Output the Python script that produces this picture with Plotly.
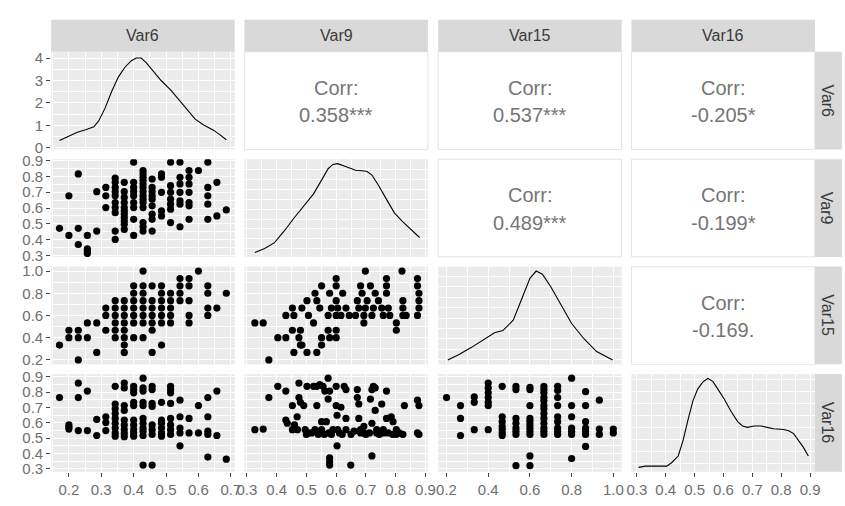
import plotly.graph_objects as go

W, H = 845, 506

# ---------------- data ----------------
variables = ["Var6", "Var9", "Var15", "Var16"]

var6_ticks = [0.2, 0.3, 0.4, 0.5, 0.6, 0.7]
var9_ticks = [0.3, 0.4, 0.5, 0.6, 0.7, 0.8, 0.9]
var15_ticks = [0.2, 0.4, 0.6, 0.8, 1.0]
var16_ticks = [0.3, 0.4, 0.5, 0.6, 0.7, 0.8, 0.9]
density6_ticks = [0, 1, 2, 3, 4]

var6_limits = [0.171, 0.686]
var9_limits = [0.32, 0.88]
var15_limits = [0.2, 1.0]
var16_limits = [0.31, 0.888]
density6_range = [-0.07, 4.28]

corr_values = {(0, 1): "0.358***", (0, 2): "0.537***", (0, 3): "-0.205*",
               (1, 2): "0.489***", (1, 3): "-0.199*", (2, 3): "-0.169."}

# diagonal densities
dens6_x = [0.171, 0.201, 0.226, 0.252, 0.277, 0.292, 0.312, 0.332, 0.353, 0.373, 0.393, 0.408,
           0.423, 0.438, 0.459, 0.484, 0.514, 0.544, 0.565, 0.590, 0.615, 0.645, 0.666, 0.686]
dens6_y = [0.33, 0.55, 0.70, 0.81, 0.94, 1.20, 1.78, 2.51, 3.16, 3.59, 3.88, 4.0,
           4.0, 3.81, 3.45, 3.01, 2.58, 2.07, 1.71, 1.28, 1.03, 0.80, 0.59, 0.36]

dens9_x = [0.327, 0.360, 0.393, 0.425, 0.458, 0.491, 0.524, 0.551, 0.573, 0.589, 0.605, 0.627,
           0.649, 0.665, 0.687, 0.704, 0.720, 0.742, 0.769, 0.796, 0.824, 0.851, 0.880]
dens9_y = [0.15, 0.25, 0.40, 0.69, 1.02, 1.33, 1.64, 1.99, 2.28, 2.39, 2.41, 2.35,
           2.28, 2.24, 2.23, 2.21, 2.12, 1.86, 1.50, 1.15, 0.93, 0.73, 0.53]

dens15_x = [0.206, 0.26, 0.32, 0.38, 0.43, 0.47, 0.52, 0.56, 0.60, 0.63, 0.66, 0.70,
            0.75, 0.80, 0.86, 0.92, 0.997]
dens15_y = [0.25, 0.38, 0.55, 0.75, 0.90, 0.95, 1.20, 1.70, 2.20, 2.375, 2.30, 2.00,
            1.55, 1.12, 0.75, 0.45, 0.25]

dens16_x = [0.306, 0.329, 0.403, 0.420, 0.443, 0.460, 0.477, 0.494, 0.511, 0.529, 0.546, 0.563,
            0.580, 0.603, 0.626, 0.649, 0.666, 0.683, 0.706, 0.729, 0.751, 0.774, 0.809, 0.826,
            0.843, 0.860, 0.877, 0.894]
dens16_y = [0.34, 0.39, 0.39, 0.53, 0.81, 1.46, 2.31, 3.10, 3.60, 3.89, 4.03, 3.91,
            3.60, 3.17, 2.67, 2.24, 2.06, 2.00, 2.06, 2.06, 2.00, 1.94, 1.91, 1.86,
            1.74, 1.46, 1.17, 0.81]

# scatter panels: Var6 is discrete (x -> list of y)
var6_vs_var9 = {
    0.171: [0.472], 0.200: [0.677, 0.427], 0.229: [0.815, 0.472, 0.370],
    0.257: [0.427, 0.342, 0.328, 0.313], 0.286: [0.703, 0.455], 0.314: [0.730, 0.677, 0.603],
    0.343: [0.788, 0.762, 0.730, 0.703, 0.677, 0.635, 0.603, 0.571, 0.455, 0.402],
    0.371: [0.762, 0.703, 0.667, 0.635, 0.603, 0.582, 0.561, 0.540, 0.518, 0.497, 0.465],
    0.400: [0.889, 0.762, 0.730, 0.703, 0.677, 0.635, 0.603, 0.529, 0.427],
    0.429: [0.836, 0.815, 0.794, 0.773, 0.752, 0.730, 0.703, 0.677, 0.656, 0.635, 0.603,
            0.508, 0.482, 0.455],
    0.457: [0.783, 0.730, 0.703, 0.677, 0.656, 0.614, 0.561, 0.529, 0.455],
    0.486: [0.815, 0.794, 0.699, 0.582, 0.550],
    0.514: [0.889, 0.741, 0.699, 0.656, 0.624, 0.593, 0.508],
    0.543: [0.889, 0.794, 0.752, 0.699, 0.646, 0.624, 0.482],
    0.571: [0.836, 0.794, 0.752, 0.699, 0.635, 0.614, 0.529],
    0.600: [0.836], 0.629: [0.889, 0.730, 0.677, 0.624, 0.529],
    0.657: [0.762, 0.550], 0.686: [0.588],
}
var6_vs_var15 = {
    0.171: [0.333], 0.200: [0.467, 0.4], 0.229: [0.467, 0.4, 0.2], 0.257: [0.533, 0.4],
    0.286: [0.533, 0.267], 0.314: [0.667, 0.6, 0.467],
    0.343: [0.733, 0.667, 0.6, 0.533, 0.467, 0.4],
    0.371: [0.733, 0.667, 0.6, 0.533, 0.467, 0.4, 0.333, 0.267],
    0.400: [0.867, 0.8, 0.733, 0.667, 0.6, 0.533, 0.4],
    0.429: [1.0, 0.867, 0.8, 0.733, 0.667, 0.6, 0.533, 0.4],
    0.457: [0.867, 0.733, 0.667, 0.6, 0.533, 0.467, 0.267],
    0.486: [0.867, 0.8, 0.733, 0.667, 0.6, 0.533, 0.333],
    0.514: [0.8, 0.733, 0.667, 0.6, 0.533],
    0.543: [0.933, 0.867, 0.8, 0.733], 0.571: [0.933, 0.867, 0.733, 0.6, 0.533],
    0.600: [1.0], 0.629: [0.867, 0.8, 0.667, 0.6], 0.657: [0.667], 0.686: [0.8],
}
var6_vs_var16 = {
    0.171: [0.764], 0.200: [0.586, 0.572, 0.559], 0.229: [0.858, 0.764, 0.549],
    0.257: [0.806, 0.549], 0.286: [0.622, 0.517], 0.314: [0.639, 0.601, 0.549],
    0.343: [0.837, 0.722, 0.691, 0.660, 0.628, 0.597, 0.566, 0.534, 0.513],
    0.371: [0.858, 0.827, 0.712, 0.680, 0.618, 0.586, 0.555, 0.530, 0.509],
    0.400: [0.837, 0.816, 0.795, 0.733, 0.712, 0.618, 0.586, 0.555, 0.534, 0.513],
    0.429: [0.890, 0.827, 0.806, 0.733, 0.712, 0.628, 0.597, 0.566, 0.545, 0.517, 0.325],
    0.457: [0.837, 0.816, 0.726, 0.706, 0.586, 0.555, 0.524, 0.325],
    0.486: [0.733, 0.618, 0.597, 0.566, 0.534, 0.513],
    0.514: [0.837, 0.816, 0.795, 0.726, 0.628, 0.586, 0.555, 0.524],
    0.543: [0.747, 0.639, 0.566, 0.534, 0.450], 0.571: [0.628, 0.534],
    0.600: [0.712, 0.534], 0.629: [0.764, 0.639, 0.545, 0.524, 0.377],
    0.657: [0.806, 0.517], 0.686: [0.363],
}
var9_vs_var15 = [
    (0.327, 0.533), (0.355, 0.533), (0.374, 0.2), (0.404, 0.4), (0.431, 0.6), (0.431, 0.4),
    (0.453, 0.667), (0.453, 0.467), (0.458, 0.6), (0.458, 0.267), (0.475, 0.4), (0.480, 0.467),
    (0.480, 0.333), (0.485, 0.667), (0.485, 0.333), (0.502, 0.267), (0.502, 0.733), (0.507, 0.6),
    (0.524, 0.533), (0.529, 0.8), (0.535, 0.267), (0.535, 0.733), (0.545, 0.667), (0.551, 0.867),
    (0.551, 0.333), (0.551, 0.4), (0.573, 0.6), (0.573, 0.467), (0.578, 0.8), (0.578, 0.4),
    (0.584, 0.667), (0.600, 0.933), (0.600, 0.867), (0.600, 0.733), (0.600, 0.6), (0.600, 0.467),
    (0.600, 0.4), (0.605, 0.667), (0.622, 0.8), (0.616, 0.6), (0.633, 0.667), (0.644, 0.6),
    (0.665, 0.6), (0.671, 0.733), (0.676, 0.667), (0.682, 0.867), (0.687, 0.8), (0.693, 0.6),
    (0.693, 0.533), (0.698, 1.0), (0.698, 0.667), (0.704, 0.733), (0.715, 0.867), (0.720, 0.6),
    (0.725, 0.667), (0.731, 0.8), (0.742, 0.733), (0.753, 0.667), (0.758, 0.6), (0.769, 0.933),
    (0.769, 0.867), (0.769, 0.8), (0.775, 0.667), (0.780, 0.6), (0.802, 0.533), (0.802, 0.467),
    (0.821, 1.0), (0.824, 0.733), (0.824, 0.667), (0.824, 0.6), (0.835, 0.6), (0.873, 0.933),
    (0.873, 0.867), (0.878, 0.8), (0.878, 0.733), (0.878, 0.667), (0.873, 0.6),
]
var9_vs_var16 = [
    (0.327, 0.555), (0.355, 0.559), (0.374, 0.764), (0.404, 0.837), (0.431, 0.806), (0.431, 0.618),
    (0.436, 0.597), (0.453, 0.712), (0.453, 0.555), (0.469, 0.639), (0.475, 0.858), (0.475, 0.764),
    (0.480, 0.733), (0.491, 0.712), (0.496, 0.555), (0.502, 0.837), (0.507, 0.534), (0.518, 0.534),
    (0.524, 0.837), (0.529, 0.555), (0.535, 0.712), (0.535, 0.837), (0.545, 0.848), (0.551, 0.607),
    (0.551, 0.555), (0.551, 0.534), (0.556, 0.837), (0.562, 0.806), (0.567, 0.607), (0.573, 0.890),
    (0.573, 0.754), (0.578, 0.806), (0.584, 0.524), (0.589, 0.555), (0.600, 0.837), (0.600, 0.712),
    (0.603, 0.649), (0.605, 0.555), (0.611, 0.534), (0.616, 0.701), (0.627, 0.837), (0.633, 0.816),
    (0.633, 0.628), (0.633, 0.555), (0.603, 0.450), (0.578, 0.371), (0.578, 0.346), (0.578, 0.325),
    (0.649, 0.325), (0.671, 0.816), (0.671, 0.764), (0.676, 0.722), (0.676, 0.628), (0.682, 0.555),
    (0.682, 0.534), (0.693, 0.576), (0.693, 0.534), (0.715, 0.754), (0.720, 0.816), (0.720, 0.597),
    (0.720, 0.384), (0.725, 0.837), (0.731, 0.827), (0.731, 0.680), (0.736, 0.555), (0.736, 0.534),
    (0.753, 0.722), (0.758, 0.555), (0.769, 0.806), (0.769, 0.628), (0.775, 0.534), (0.785, 0.639),
    (0.791, 0.607), (0.802, 0.555), (0.802, 0.524), (0.824, 0.524), (0.829, 0.712), (0.873, 0.747),
    (0.878, 0.712), (0.873, 0.534), (0.878, 0.524), (0.560, 0.524), (0.575, 0.534), (0.620, 0.524),
    (0.650, 0.524), (0.660, 0.545), (0.700, 0.524), (0.712, 0.534), (0.745, 0.524), (0.760, 0.534),
    (0.790, 0.524), (0.812, 0.534), (0.540, 0.524), (0.500, 0.524), (0.470, 0.555), (0.460, 0.586),
]
var15_vs_var16 = {
    0.2: [0.764], 0.267: [0.712, 0.628, 0.517], 0.333: [0.768, 0.733, 0.555],
    0.4: [0.858, 0.827, 0.795, 0.764, 0.733, 0.712, 0.555],
    0.467: [0.837, 0.639, 0.607, 0.576, 0.555, 0.534, 0.517],
    0.533: [0.837, 0.816, 0.628, 0.597, 0.566, 0.545, 0.524, 0.321],
    0.6: [0.831, 0.816, 0.712, 0.628, 0.607, 0.586, 0.566, 0.545, 0.524, 0.384, 0.321],
    0.667: [0.837, 0.816, 0.795, 0.764, 0.743, 0.712, 0.691, 0.660, 0.628, 0.597, 0.566,
            0.545, 0.524],
    0.733: [0.837, 0.810, 0.764, 0.712, 0.639, 0.607, 0.566, 0.545, 0.524],
    0.8: [0.890, 0.712, 0.639, 0.566, 0.545, 0.524, 0.367],
    0.867: [0.802, 0.712, 0.607, 0.566, 0.545, 0.524, 0.446],
    0.933: [0.747, 0.559, 0.524], 1.0: [0.559, 0.534],
}

# ---------------- helpers ----------------
def expand(lim, frac=0.05):
    s = lim[1] - lim[0]
    return [lim[0] - frac * s, lim[1] + frac * s]


def from_columns(d):
    xs, ys = [], []
    for x, col in d.items():
        for y in col:
            xs.append(x)
            ys.append(y)
    return xs, ys


def from_pairs(p):
    return [a for a, _ in p], [b for _, b in p]


def minor_vals(ticks, rng):
    step = ticks[1] - ticks[0]
    vals = []
    t = ticks[0] - step / 2
    while t <= rng[1] + 1e-9:
        if t >= rng[0]:
            vals.append(round(t, 6))
        t += step
    return vals


var_range = {"Var6": expand(var6_limits), "Var9": expand(var9_limits),
             "Var15": expand(var15_limits), "Var16": expand(var16_limits)}
var_ticks = {"Var6": var6_ticks, "Var9": var9_ticks, "Var15": var15_ticks, "Var16": var16_ticks}

diag = {
    0: (dens6_x, dens6_y),
    1: (dens9_x, dens9_y),
    2: (dens15_x, dens15_y),
    3: (dens16_x, dens16_y),
}
lower = {
    (1, 0): from_columns(var6_vs_var9),
    (2, 0): from_columns(var6_vs_var15),
    (3, 0): from_columns(var6_vs_var16),
    (2, 1): from_pairs(var9_vs_var15),
    (3, 1): from_pairs(var9_vs_var16),
    (3, 2): from_columns(var15_vs_var16),
}

# ---------------- geometry (pixels) ----------------
col_left = [44, 241, 438.5, 635.5]
col_w = 187
row_top = [46, 156.5, 267, 377.5]
row_h = 100.5
strip_top = 13
strip_right_x0 = 822.5

FONT = "Liberation Sans, Arial, sans-serif"
TICK_FONT = dict(family=FONT, size=15, color="#6E6E6E")
CORR_COLOR = "#757575"
STRIP_COLOR = "#3A3A3A"


def px_x(p):
    return p / W


def px_y(p):
    return 1 - p / H


def xdom(j):
    return [px_x(col_left[j]), px_x(col_left[j] + col_w)]


def ydom(i):
    return [px_y(row_top[i] + row_h), px_y(row_top[i])]


fig = go.Figure()
layout = dict()
shapes = []
annotations = []

n = 0
for i in range(4):
    for j in range(4):
        if j > i:
            continue
        n += 1
        xa = "x" if n == 1 else f"x{n}"
        ya = "y" if n == 1 else f"y{n}"
        xkey = "xaxis" if n == 1 else f"xaxis{n}"
        ykey = "yaxis" if n == 1 else f"yaxis{n}"
        vx = variables[j]
        xr = var_range[vx]
        xt = var_ticks[vx]
        show_x = (i == 3)
        layout[xkey] = dict(
            domain=xdom(j), anchor=ya, range=xr, tickvals=xt,
            ticktext=[f"{v:.1f}" for v in xt], showticklabels=show_x,
            ticks="outside" if show_x else "", ticklen=4, tickwidth=1, tickcolor="#444444",
            tickfont=TICK_FONT, showgrid=True, gridcolor="white", gridwidth=1.1,
            minor=dict(tickvals=minor_vals(xt, xr), showgrid=True, gridcolor="white", gridwidth=0.55),
            zeroline=False, showline=False, fixedrange=True,
        )
        if i == j:
            dx, dy = diag[i]
            fig.add_trace(go.Scatter(x=dx, y=dy, mode="lines", xaxis=xa, yaxis=ya,
                                     line=dict(color="black", width=1.1), showlegend=False,
                                     hoverinfo="skip"))
            if i == 0:
                yr = density6_range
                yt = density6_ticks
            else:
                yr = expand([min(dy), max(dy)])
                step = 0.5 if max(dy) < 3 else 1.0
                yt = [k * step for k in range(1, 10) if yr[0] <= k * step <= yr[1]]
        else:
            sx, sy = lower[(i, j)]
            fig.add_trace(go.Scatter(x=sx, y=sy, mode="markers", xaxis=xa, yaxis=ya,
                                     marker=dict(color="black", size=7.2, line=dict(width=0)),
                                     showlegend=False, hoverinfo="skip"))
            vy = variables[i]
            yr = var_range[vy]
            yt = var_ticks[vy]
        show_y = (j == 0)
        layout[ykey] = dict(
            domain=ydom(i), anchor=xa, range=yr, tickvals=yt,
            ticktext=[(f"{v:g}" if (i == 0) else f"{v:.1f}") for v in yt], showticklabels=show_y,
            ticks="outside" if show_y else "", ticklen=4, tickwidth=1, tickcolor="#444444",
            tickfont=TICK_FONT, showgrid=True, gridcolor="white", gridwidth=1.1,
            minor=dict(tickvals=minor_vals(yt, yr), showgrid=True, gridcolor="white", gridwidth=0.55),
            zeroline=False, showline=False, fixedrange=True,
        )

# upper correlation panels
for (i, j), val in corr_values.items():
    x0, x1 = col_left[j], col_left[j] + col_w
    y0, y1 = row_top[i], row_top[i] + row_h
    shapes.append(dict(type="rect", xref="paper", yref="paper", x0=px_x(x0), x1=px_x(x1),
                       y0=px_y(y1), y1=px_y(y0), fillcolor="white",
                       line=dict(color="#E4E4E4", width=1), layer="below"))
    cx = (x0 + x1) / 2
    cy = (y0 + y1) / 2
    annotations.append(dict(x=px_x(cx), y=px_y(cy - 13), xref="paper", yref="paper",
                            text="Corr:", showarrow=False, xanchor="center", yanchor="middle",
                            font=dict(family=FONT, size=20, color=CORR_COLOR)))
    annotations.append(dict(x=px_x(cx), y=px_y(cy + 15), xref="paper", yref="paper",
                            text=val, showarrow=False, xanchor="center", yanchor="middle",
                            font=dict(family=FONT, size=20, color=CORR_COLOR)))

# top strips
for j, name in enumerate(variables):
    x0, x1 = col_left[j], col_left[j] + col_w
    shapes.append(dict(type="rect", xref="paper", yref="paper", x0=px_x(x0), x1=px_x(x1),
                       y0=px_y(row_top[0]), y1=px_y(strip_top), fillcolor="#D9D9D9",
                       line=dict(width=0), layer="below"))
    annotations.append(dict(x=px_x((x0 + x1) / 2), y=px_y((strip_top + row_top[0]) / 2),
                            xref="paper", yref="paper", text=name, showarrow=False,
                            xanchor="center", yanchor="middle",
                            font=dict(family=FONT, size=16, color=STRIP_COLOR)))

# right strips
for i, name in enumerate(variables):
    y0, y1 = row_top[i], row_top[i] + row_h
    shapes.append(dict(type="rect", xref="paper", yref="paper", x0=px_x(strip_right_x0),
                       x1=px_x(W + 5), y0=px_y(y1), y1=px_y(y0), fillcolor="#D9D9D9",
                       line=dict(width=0), layer="below"))
    annotations.append(dict(x=px_x(835), y=px_y((y0 + y1) / 2), xref="paper", yref="paper",
                            text=name, showarrow=False, textangle=90,
                            xanchor="center", yanchor="middle",
                            font=dict(family=FONT, size=16, color=STRIP_COLOR)))

fig.update_layout(
    **layout,
    width=W, height=H, margin=dict(l=0, r=0, t=0, b=0),
    paper_bgcolor="white", plot_bgcolor="#EBEBEB",
    shapes=shapes, annotations=annotations, showlegend=False,
    font=dict(family=FONT),
)

fig.write_html("out.html", config={"displayModeBar": False})
